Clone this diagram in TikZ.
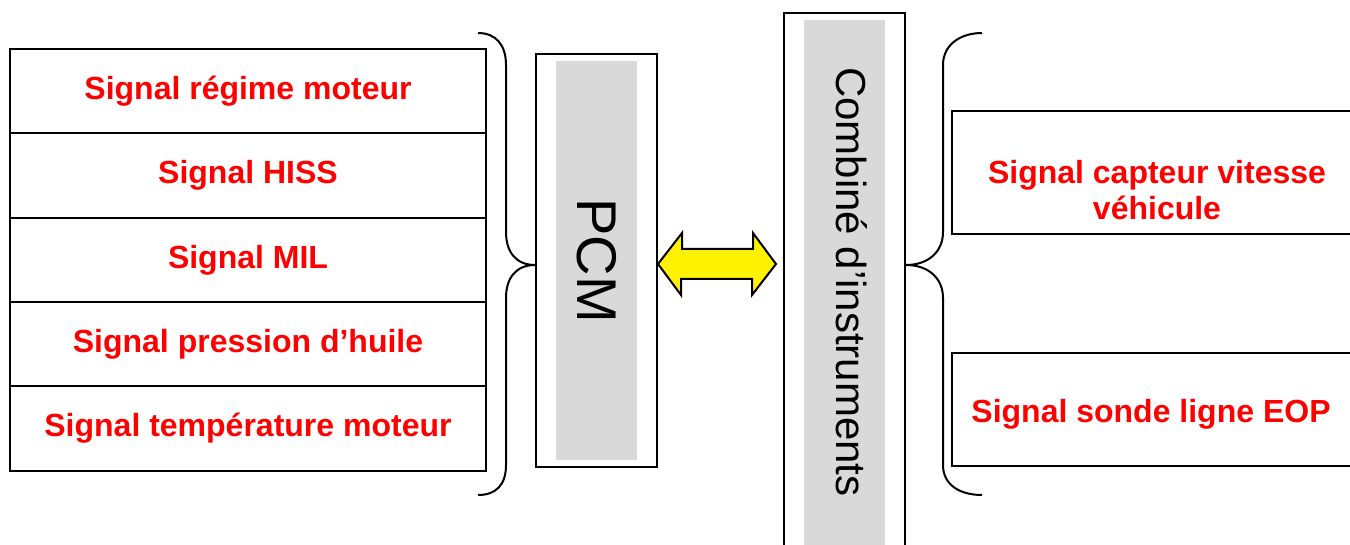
\documentclass[tikz,border=0pt]{standalone}
\usepackage{fontspec}
\setmainfont{Liberation Sans}
\usetikzlibrary{positioning}
\definecolor{sigred}{RGB}{255,0,0}
\definecolor{boxgray}{RGB}{217,217,217}

\begin{document}
\begin{tikzpicture}[x=0.5pt, y=-0.5pt, node distance=42.2pt,
	sig/.style={draw, line width=1pt, minimum width=238pt, minimum height=42.2pt,
		inner sep=0pt, text=sigred, font=\fontsize{16}{18}\selectfont\bfseries},
	sigr/.style={draw, line width=0.8pt, minimum width=205pt, inner sep=0pt},
	sigtxt/.style={text=sigred, align=center, font=\fontsize{16}{18}\selectfont\bfseries},
	ecu/.style={draw, line width=1pt, inner sep=0pt, minimum width=60.5pt},
	brace/.style={line width=1pt},
	dblarrow/.style={draw, line width=1pt, fill=yellow, line join=miter}]
	\clip (0,0) rectangle (1350,545);
	% signaux du PCM
	\node (regime) [sig] at (248,91) {Signal régime moteur};
	\node (hiss) [sig, below of=regime] {Signal HISS};
	\node (mil) [sig, below of=hiss] {Signal MIL};
	\node (huile) [sig, below of=mil] {Signal pression d’huile};
	\node (temp) [sig, below of=huile] {Signal température moteur};
	% calculateurs
	\node (PCM) [ecu, minimum height=206.5pt] at (596.5,260.5) {};
	\node (pcmlab) [fill=boxgray, inner sep=0pt, rotate=-90, minimum width=199.5pt,
		minimum height=40.5pt, font=\fontsize{28}{28}\selectfont] at (PCM) {PCM};
	\node (CMB) [ecu, minimum height=283.5pt] at (844.5,296.5) {};
	\fill[boxgray] (804,20) rectangle (885,560);
	\node (cmblab) [rotate=-90, inner sep=0pt, font=\fontsize{21}{21}\selectfont]
		at (852,282) {Combiné d’instruments};
	% signaux du combine
	\node (vitesse) [sigr, minimum height=61.5pt] at (1157,172.5) {};
	\node (vitlab) [sigtxt] at (1157,190) {Signal capteur vitesse\\véhicule};
	\node (eop) [sigr, minimum height=56.5pt] at (1157,409.5) {};
	\node (eoplab) [sigtxt] at (1151,414) {Signal sonde ligne EOP};
	% liaison
	\coordinate (aL) at (PCM.east |- 0,264);
	\coordinate (aR) at (776,264);
	\draw[dblarrow] (aL) -- ++(24,-31) -- ++(0,16) -- ++(71,0) -- ++(0,-16) -- (aR)
		-- ++(-24,31) -- ++(0,-16) -- ++(-71,0) -- ++(0,16) -- cycle;
	% accolades
	\draw[brace] (478,33) .. controls (496,33) and (506,45) .. (506,65) -- (506,232)
		.. controls (506,252) and (516,265) .. (PCM.west |- 0,265)
		.. controls (516,265) and (506,278) .. (506,298) -- (506,465)
		.. controls (506,485) and (496,495) .. (478,495);
	\draw[brace] (982,33) .. controls (960,33) and (943,45) .. (943,65) -- (943,232)
		.. controls (943,252) and (928,265) .. (CMB.east |- 0,265)
		.. controls (928,265) and (943,278) .. (943,298) -- (943,465)
		.. controls (943,485) and (960,495) .. (982,495);
\end{tikzpicture}
\end{document}
